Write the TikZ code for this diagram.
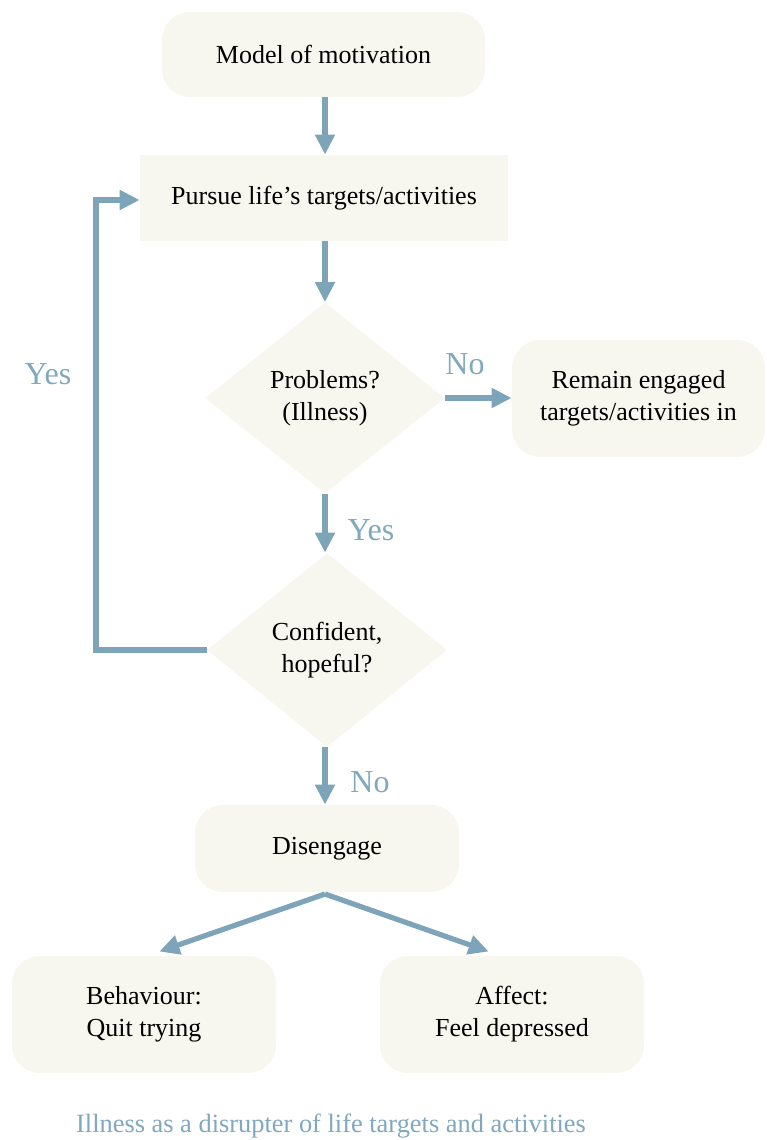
\documentclass[tikz,border=0pt]{standalone}
\usepackage{fontspec}
\setmainfont{Liberation Serif}
\usetikzlibrary{shapes.geometric,arrows.meta}
\definecolor{boxfill}{RGB}{247,246,239}
\definecolor{flow}{RGB}{125,164,185}
\definecolor{flowtext}{RGB}{128,168,190}
\tikzset{
  base/.style={fill=boxfill, draw=none, align=center, inner sep=0pt,
    font=\fontsize{13}{16}\selectfont, text=black},
  roundbox/.style={base, rounded corners=14pt},
  squarebox/.style={base},
  decision/.style={base, diamond, shape aspect=1.25},
  flowarrow/.style={draw=flow, line width=2.6pt,
    -{Triangle[width=9.5pt,length=10pt]}},
  answer/.style={text=flowtext, font=\fontsize{16}{18}\selectfont, inner sep=0pt},
}
\begin{document}
\begin{tikzpicture}[x=0.5pt, y=-0.5pt]
  \useasboundingbox (0,0) rectangle (766,1140);

  % boxes and decisions
  \node[roundbox, minimum width=161.5pt, minimum height=42.5pt] (model) at (323.5,54.5) {Model of motivation};
  \node[squarebox, minimum width=184pt, minimum height=43pt] (pursue) at (324,198) {Pursue life’s targets/activities};
  \node[decision, minimum width=120pt, minimum height=95.5pt] (problems) at (325,398) {Problems?\\(Illness)};
  \node[roundbox, minimum width=126.5pt, minimum height=58.5pt] (remain) at (638.5,398.5) {Remain engaged\\targets/activities in};
  \node[decision, minimum width=120pt, minimum height=97pt] (confident) at (327,650) {Confident,\\hopeful?};
  \node[roundbox, minimum width=132pt, minimum height=43.5pt] (disengage) at (327,848.5) {Disengage};
  \node[roundbox, minimum width=132pt, minimum height=58.5pt] (behaviour) at (144,1014.5) {Behaviour:\\Quit trying};
  \node[roundbox, minimum width=132pt, minimum height=58.5pt] (affect) at (512,1014.5) {Affect:\\Feel depressed};

  % connectors
  \draw[flowarrow] (model.south -| 325,0) -- (pursue.north -| 325,0);
  \draw[flowarrow] (pursue.south -| 325,0) -- (problems.north);
  \draw[flowarrow] (problems.east) -- (remain.west |- problems.east);
  \draw[flowarrow] (problems.south) -- (confident.north -| problems.south);
  \draw[flowarrow] (confident.south -| 325,0) -- (disengage.north -| 325,0);
  \coordinate (loop) at (96,650);
  \draw[flowarrow] (confident.west) -- (loop) |- (pursue.west |- 0,200);
  \coordinate (split) at (325,894);
  \node[inner sep=0pt] (splitleft) at (158,952) {};
  \node[inner sep=0pt] (splitright) at (490,952) {};
  \draw[flowarrow, line join=round] (split) -- (splitleft);
  \draw[flowarrow, line join=round] (split) -- (splitright);

  % answers on the connectors
  \node[answer] (yesloop) at (48,374) {Yes};
  \node[answer] (noright) at (465,364) {No};
  \node[answer] (yesdown) at (371,530) {Yes};
  \node[answer] (nodown) at (370,782) {No};

  % caption
  \node[text=flowtext, font=\fontsize{13.2}{15}\selectfont, inner sep=0pt] (caption) at (331,1126)
    {Illness as a disrupter of life targets and activities};
\end{tikzpicture}
\end{document}
